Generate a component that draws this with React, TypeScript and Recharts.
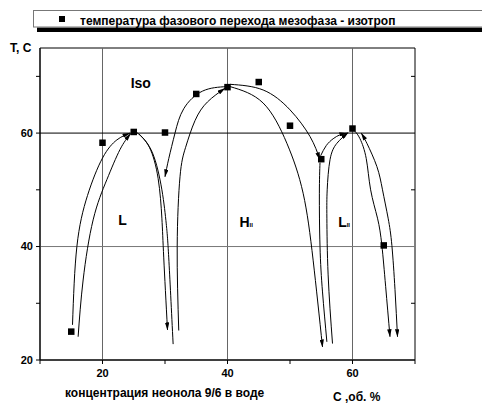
import React from "react";
import { ComposedChart, Line, Scatter, XAxis, YAxis, ReferenceLine, ReferenceArea } from "recharts";

const FONT = "'Liberation Sans', Arial, Helvetica, sans-serif";

// measured transition temperatures (mesophase -> isotropic)
const transitionPoints = [
  { x: 15, y: 25.0 },
  { x: 20, y: 58.3 },
  { x: 25, y: 60.2 },
  { x: 30, y: 60.1 },
  { x: 35, y: 66.9 },
  { x: 40, y: 68.1 },
  { x: 45, y: 69.0 },
  { x: 50, y: 61.3 },
  { x: 55, y: 55.4 },
  { x: 60, y: 60.8 },
  { x: 65, y: 40.2 },
];

// hand-drawn arrows, in data units (C %, T)
const riseL1 = [{ x: 15.2, y: 26.2 }, { x: 15.9, y: 40 }, { x: 17.6, y: 49 }, { x: 20, y: 55.6 }, { x: 22.3, y: 58.8 }, { x: 24.4, y: 60.0 }];
const riseL2 = [{ x: 16.1, y: 24.1 }, { x: 16.9, y: 34.1 }, { x: 18.5, y: 44.7 }, { x: 20.7, y: 51.8 }, { x: 22.8, y: 57.1 }, { x: 24.5, y: 59.9 }];
const fallL1 = [{ x: 25.5, y: 60.1 }, { x: 27.5, y: 57.5 }, { x: 28.9, y: 52 }, { x: 29.5, y: 45 }, { x: 29.8, y: 38 }, { x: 30.4, y: 25.3 }];
const fallL2 = [{ x: 25.8, y: 59.9 }, { x: 28.0, y: 56.5 }, { x: 29.5, y: 50 }, { x: 30.2, y: 44 }, { x: 30.6, y: 38 }, { x: 31.3, y: 22.8 }];
const fallH0 = [{ x: 39.9, y: 68.2 }, { x: 36, y: 67.4 }, { x: 33.0, y: 64.3 }, { x: 31.6, y: 60 }, { x: 30.6, y: 55.5 }, { x: 30.0, y: 52.3 }];
const riseH0 = [{ x: 32.2, y: 25.2 }, { x: 31.95, y: 40 }, { x: 32.4, y: 52.3 }, { x: 33.3, y: 57.5 }, { x: 34.8, y: 62.2 }, { x: 36.8, y: 65.5 }, { x: 39.6, y: 67.9 }];
const fallH1 = [{ x: 40.4, y: 68.6 }, { x: 45.7, y: 67.6 }, { x: 50, y: 64.1 }, { x: 53.2, y: 59.4 }, { x: 54.8, y: 55.3 }];
const fallH2 = [{ x: 40.4, y: 68.2 }, { x: 45.7, y: 65.3 }, { x: 49.5, y: 58.2 }, { x: 52.1, y: 49.4 }, { x: 53.7, y: 37.6 }, { x: 55.2, y: 22.3 }];
const fallH3 = [{ x: 54.8, y: 54.8 }, { x: 54.7, y: 49.4 }, { x: 54.8, y: 40 }, { x: 55.2, y: 32 }, { x: 55.9, y: 23.2 }];
const riseLa1 = [{ x: 56.8, y: 22.9 }, { x: 56.1, y: 35 }, { x: 55.9, y: 45 }, { x: 55.95, y: 50 }, { x: 56.4, y: 55.3 }, { x: 57.5, y: 58.2 }, { x: 59.3, y: 60.1 }];
const riseLa2 = [{ x: 54.9, y: 56 }, { x: 55.8, y: 57.8 }, { x: 56.9, y: 59 }, { x: 58.0, y: 59.7 }, { x: 59.1, y: 60.0 }];
const fallLa1 = [{ x: 60.4, y: 60.3 }, { x: 61.2, y: 59 }, { x: 62.2, y: 55.5 }, { x: 62.9, y: 50 }, { x: 64.0, y: 45 }, { x: 64.7, y: 40.2 }, { x: 65.3, y: 33 }, { x: 66.0, y: 24.1 }];
const fallLa2 = [{ x: 61.4, y: 60.0 }, { x: 62.3, y: 58.2 }, { x: 63.9, y: 54.1 }, { x: 64.8, y: 50 }, { x: 65.7, y: 45 }, { x: 66.3, y: 40.2 }, { x: 66.8, y: 32.4 }, { x: 67.2, y: 24.1 }];

// phase regions
const regionLabels = [
  { x: 24.5, y: 68.0, text: "Iso", sub: "" },
  { x: 22.5, y: 43.8, text: "L", sub: "" },
  { x: 41.9, y: 43.5, text: "H", sub: "II" },
  { x: 57.7, y: 43.5, text: "L", sub: "II" },
];

const xTicks = [10, 20, 30, 40, 50, 60, 70];
const yTicks = [20, 30, 40, 50, 60, 70];
const labelledTicks = [20, 40, 60];
const rightTicks = [30, 50, 70];

const arrows = [
  { data: riseL1, end: true, start: false },
  { data: riseL2, end: true, start: false },
  { data: fallL1, end: true, start: false },
  { data: fallL2, end: false, start: false },
  { data: fallH0, end: true, start: false },
  { data: riseH0, end: true, start: false },
  { data: fallH1, end: true, start: false },
  { data: fallH2, end: true, start: false },
  { data: fallH3, end: false, start: false },
  { data: riseLa1, end: true, start: false },
  { data: riseLa2, end: true, start: false },
  { data: fallLa1, end: true, start: false },
  { data: fallLa2, end: true, start: true },
];

const tickStyle = { fontSize: 11, fontWeight: "bold", fill: "#000", fontFamily: FONT };
const fmt = (v: number) => (labelledTicks.includes(v) ? String(v) : "");

const Square = (p: any) => <rect x={p.cx - 3.25} y={p.cy - 3.25} width={6.5} height={6.5} fill="#000" />;

const RegionText = (p: any) => (
  <text x={p.cx} y={p.cy} fontFamily={FONT} fontWeight="bold" fontSize={14} fill="#000">
    {p.payload.text}
    {p.payload.sub ? <tspan fontSize={6}>{p.payload.sub}</tspan> : null}
  </text>
);

export default function App() {
  return (
    <div style={{ position: "absolute", left: 0, top: 0, width: 482, height: 406, overflow: "hidden", background: "#fff" }}>
      <svg width={0} height={0} style={{ position: "absolute" }}>
        <defs>
          <marker id="arrEnd" viewBox="0 0 8 4.4" refX="7.5" refY="2.2" markerWidth="8" markerHeight="4.4" markerUnits="userSpaceOnUse" orient="auto">
            <path d="M0,0 L8,2.2 L0,4.4 z" fill="#000" />
          </marker>
          <marker id="arrStart" viewBox="0 0 8 4.4" refX="7.5" refY="2.2" markerWidth="8" markerHeight="4.4" markerUnits="userSpaceOnUse" orient="auto-start-reverse">
            <path d="M0,0 L8,2.2 L0,4.4 z" fill="#000" />
          </marker>
        </defs>
      </svg>

      <ComposedChart width={482} height={406} margin={{ top: 48, right: 67, bottom: 16, left: 0 }}>
        <XAxis
          dataKey="x"
          type="number"
          domain={[10, 70]}
          ticks={xTicks}
          interval={0}
          tickFormatter={fmt}
          tick={tickStyle}
          tickSize={4}
          tickMargin={5}
          height={30}
          axisLine={{ stroke: "#000" }}
          tickLine={{ stroke: "#000" }}
          allowDataOverflow
        />
        <YAxis
          dataKey="y"
          type="number"
          domain={[20, 75]}
          ticks={yTicks}
          interval={0}
          tickFormatter={fmt}
          tick={tickStyle}
          tickSize={4}
          tickMargin={3}
          width={40}
          axisLine={{ stroke: "#000" }}
          tickLine={{ stroke: "#000" }}
          allowDataOverflow
        />

        {/* plot frame (top and right edges) */}
        <ReferenceArea x1={10} x2={70} y1={20} y2={75} fill="none" stroke="#000" strokeWidth={1} />
        {rightTicks.map((t) => (
          <ReferenceLine key={t} segment={[{ x: 69.36, y: t }, { x: 70, y: t }]} stroke="#000" />
        ))}

        <ReferenceLine x={20} stroke="#666" />
        <ReferenceLine x={40} stroke="#666" />
        <ReferenceLine x={60} stroke="#666" />
        <ReferenceLine y={40} stroke="#777" />
        <ReferenceLine y={60} stroke="#000" />

        {arrows.map((a, i) => (
          <Line
            key={i}
            data={a.data}
            dataKey="y"
            type="natural"
            stroke="#000"
            strokeWidth={1}
            dot={false}
            activeDot={false}
            legendType="none"
            markerEnd={a.end ? "url(#arrEnd)" : undefined}
            markerStart={a.start ? "url(#arrStart)" : undefined}
            isAnimationActive={false}
          />
        ))}

        <Scatter data={transitionPoints} shape={Square} isAnimationActive={false} />
        <Scatter data={regionLabels} shape={RegionText} isAnimationActive={false} />
      </ComposedChart>

      <svg width={482} height={406} style={{ position: "absolute", left: 0, top: 0, pointerEvents: "none" }}>
        <rect x={37} y={27.5} width={460} height={4.5} fill="#000" />
        <rect x={33.5} y={10.5} width={460} height={16.5} fill="#fff" stroke="#777" />
        <rect x={59} y={16} width={6} height={6} fill="#000" />
        <text x={80} y={25} fontFamily={FONT} fontWeight="bold" fontSize={12} fill="#000">
          температура фазового перехода мезофаза - изотроп
        </text>
        <text x={10} y={52} fontFamily={FONT} fontWeight="bold" fontSize={12} fill="#000">T, C</text>
        <text x={65} y={397} fontFamily={FONT} fontWeight="bold" fontSize={12} fill="#000">концентрация неонола 9/6 в воде</text>
        <text x={333} y={401} fontFamily={FONT} fontWeight="bold" fontSize={12} fill="#000">C ,об. %</text>
      </svg>
    </div>
  );
}
